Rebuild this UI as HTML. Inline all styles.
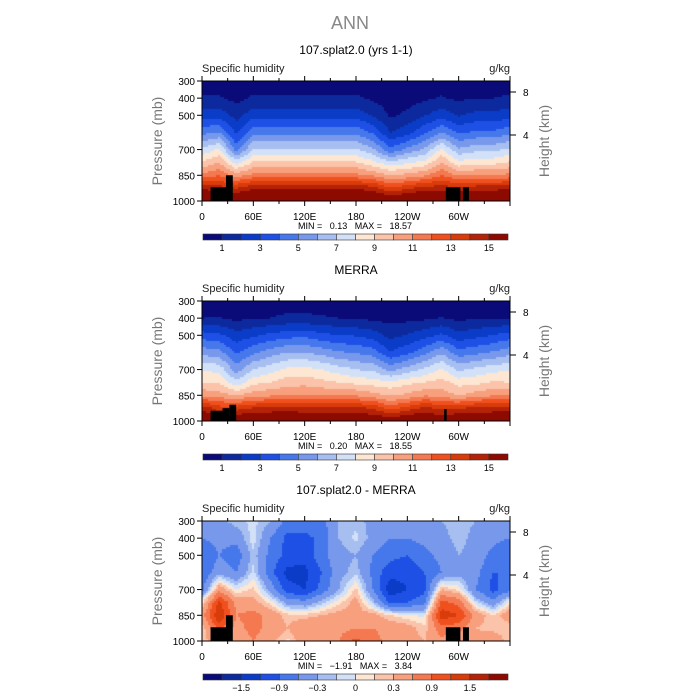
<!DOCTYPE html>
<html><head><meta charset="utf-8">
<style>
body{margin:0;background:#fff;width:700px;height:700px;overflow:hidden;font-family:"Liberation Sans",sans-serif;}
#wrap{position:relative;width:700px;height:700px;}
canvas{position:absolute;left:0;top:0;}
svg{position:absolute;left:0;top:0;}
.pre{white-space:pre;}
</style></head>
<body>
<div id="wrap">
<canvas id="cv" width="700" height="700"></canvas>
<svg id="sv" width="700" height="700" xmlns="http://www.w3.org/2000/svg">
<text x="350" y="29" text-anchor="middle" font-size="18" fill="#888">ANN</text>
</svg>
</div>
<script>
// ---- data ----
const lons = [0,20,40,60,80,100,120,140,160,180,200,220,240,260,280,300,320,340,360];
const levels = [1000,925,850,775,700,600,500,400,300];
const modelQ = [
 [17,16.5,17,17,17,17,17,17,17,17,17,16.5,16.8,17,16.5,17,17,17,17],
 [14.8,14.5,14,14.8,14.8,14.8,14.8,14.8,14.8,14.8,14.5,13,13.8,14.5,14.5,14.5,14.6,14.6,14.8],
 [11.3,12,10.5,11.3,11.3,11.3,11.3,11.3,11.3,11.3,10.8,10,10.3,10.8,12,10.8,11,11,11.3],
 [9.1,10,7.5,9.1,9.1,9.1,9.1,9.1,9.1,9.1,8.3,7.3,7.8,8.3,10,8.3,8.6,8.6,9.1],
 [7.2,8.2,4.5,7.2,7.2,7.2,7.2,7.2,7.2,7.2,6.2,4.2,5.3,6.2,8.2,6.2,6.7,6.7,7.2],
 [4.7,5,2.8,4.7,4.7,4.7,4.7,4.7,4.7,4.7,3.8,2.0,2.6,3.8,5,3.8,4.2,4.2,4.7],
 [2.6,2.6,1.6,2.6,2.6,2.6,2.6,2.6,2.6,2.6,1.9,0.85,1.2,1.9,2.6,1.9,2.3,2.3,2.6],
 [1.15,1.1,0.7,1.15,1.15,1.15,1.15,1.15,1.15,1.15,0.8,0.5,0.6,0.8,1.1,0.8,1.0,1.0,1.15],
 [0.5,0.45,0.35,0.5,0.5,0.5,0.5,0.5,0.5,0.5,0.35,0.3,0.3,0.35,0.45,0.35,0.4,0.4,0.5]
];
const merraQ = [
 [16.85,15.9,16.6,16.4,16.6,16.9,16.5,16.5,16.4,16,16.3,16,16.4,16.7,16,16.6,16.6,16.4,16.85],
 [14.65,13.5,13.5,14.1,14.3,14.5,14.2,14.2,14.3,14.2,13.9,12.5,13.4,14.3,13.7,13.8,14.3,14.4,14.65],
 [10.8,10.5,9.9,10.6,10.8,11.1,11.1,11,10.9,10.9,10.4,9.85,10.25,10.85,10.6,9.9,10.5,10.85,10.8],
 [9.0,8.9,7.3,8.7,9.0,9.5,9.6,9.3,9.0,8.7,8.5,8.3,8.7,9.0,9.4,8.6,8.7,9.1,9.0],
 [7.9,7.7,5.5,7.0,7.6,8.3,8.4,8.0,7.5,7.0,6.8,5.6,6.5,7.2,8.2,6.8,7.3,7.7,7.9],
 [5.6,5.4,3.8,4.8,5.5,6.0,6.0,5.6,5.1,4.9,4.5,3.1,3.7,4.7,5.8,4.4,4.7,5.1,5.6],
 [3.5,3.2,2.4,2.8,3.3,3.6,3.7,3.3,3.0,2.9,2.5,1.65,2.1,2.6,3.2,2.3,2.7,3.0,3.5],
 [1.0,1.05,0.75,0.95,1.0,1.2,1.2,1.1,1.0,0.9,0.75,0.65,0.7,0.8,1.05,0.75,0.9,0.9,1.0],
 [0.45,0.45,0.35,0.45,0.45,0.5,0.5,0.5,0.45,0.45,0.35,0.35,0.35,0.35,0.45,0.35,0.4,0.4,0.45]
];
const diffQ = [
 [0.15,0.6,0.4,0.6,0.4,0.1,0.5,0.5,0.6,1.0,0.7,0.5,0.4,0.3,0.5,0.4,0.4,0.6,0.15],
 [0.15,1.0,0.5,0.7,0.5,0.3,0.6,0.6,0.5,0.6,0.6,0.5,0.4,0.2,0.8,0.7,0.3,0.2,0.15],
 [0.5,1.5,0.6,0.7,0.5,0.2,0.2,0.3,0.4,0.4,0.4,0.15,0.05,-0.05,1.4,1.2,0.5,0.15,0.5],
 [0.1,1.3,0.5,0.4,0.1,-0.4,-0.5,-0.2,0.1,0.4,-0.2,-1.0,-0.9,-0.7,1.0,0.8,-0.1,-0.5,0.1],
 [-0.7,0.5,0.0,0.2,-0.4,-1.1,-1.2,-0.8,-0.3,0.2,-0.6,-1.4,-1.2,-1.0,0.3,0.1,-0.6,-1.0,-0.7],
 [-0.9,-0.4,-0.6,-0.1,-0.8,-1.3,-1.3,-0.9,-0.4,-0.2,-0.7,-1.1,-1.1,-0.9,-0.6,-0.4,-0.5,-0.9,-0.9],
 [-0.9,-0.6,-0.8,-0.2,-0.7,-1.0,-1.1,-0.7,-0.4,-0.3,-0.6,-0.8,-0.9,-0.7,-0.5,-0.3,-0.4,-0.7,-0.9],
 [-0.6,-0.5,-0.5,-0.05,-0.6,-1.0,-1.0,-0.8,-0.3,-0.1,-0.4,-0.6,-0.6,-0.5,-0.4,-0.2,-0.4,-0.5,-0.6],
 [-0.3,-0.4,-0.2,-0.1,-0.3,-0.7,-0.7,-0.7,-0.3,-0.2,-0.4,-0.5,-0.4,-0.3,-0.3,-0.2,-0.3,-0.4,-0.3]
];
const absBounds = [1,2,3,4,5,6,7,8,9,10,11,12,13,14,15];
const absLabels = ["1","3","5","7","9","11","13","15"];
const diffBounds = [-1.8,-1.5,-1.2,-0.9,-0.6,-0.3,-0.15,0,0.15,0.3,0.6,0.9,1.2,1.5,1.8];
const diffLabels = ["\u22121.5","\u22120.9","\u22120.3","0","0.3","0.9","1.5"];
const palette = ["#0a0a78","#0c2a9e","#0a3cc8","#1e50e6","#4678eb","#7898ec","#a6bff0","#d2e1f8","#fde6d2","#fbc3aa","#f8a07d","#f47850","#f0501e","#d83c0a","#b42308","#8c0a00"];
const pTicks = [300,400,500,700,850,1000];
const xTickLons = [0,60,120,180,240,300];
const xTickLabels = ["0","60E","120E","180","120W","60W"];
const hTicks = [8,4];
const minMax = [["0.13","18.57"],["0.20","18.55"],["\u22121.91","3.84"]];
const titles = ["107.splat2.0 (yrs 1-1)","MERRA","107.splat2.0 - MERRA"];
const topoModel = [[10,30,1000,920],[28,36,1000,850],[285,302,1000,920],[305,312,1000,920]];
const topoMerra = [[10,24,1000,940],[24,32,1000,925],[32,40,1000,905],[283,286,1000,930]];

// ---- geometry ----
const X0=202,X1=510,PT=81,PB=201;
const xs = lon => X0 + (lon/360)*(X1-X0);
const ys = (p,off) => off + PT + (p-300)/700*(PB-PT);
const hy = (km,off) => off + 92 + (8-km)/4*43;

const cv=document.getElementById('cv'),ctx=cv.getContext('2d');
const sv=document.getElementById('sv');
const NS='http://www.w3.org/2000/svg';
function mk(tag,attrs,txt){const e=document.createElementNS(NS,tag);for(const k in attrs)e.setAttribute(k,attrs[k]);if(txt!==undefined)e.textContent=txt;sv.appendChild(e);return e;}

function sample(field,lon,p){
  let i=0;while(i<lons.length-2&&lon>lons[i+1])i++;
  const tx=(lon-lons[i])/(lons[i+1]-lons[i]);
  let j=0;while(j<levels.length-2&&p<levels[j+1])j++;
  const ty=(levels[j]-p)/(levels[j]-levels[j+1]);
  const a=field[j][i],b=field[j][i+1],c=field[j+1][i],d=field[j+1][i+1];
  return (a*(1-tx)+b*tx)*(1-ty)+(c*(1-tx)+d*tx)*ty;
}
function colorIdx(v,bounds){let k=0;while(k<bounds.length&&v>=bounds[k])k++;return k;}

function panel(n,field,bounds,labels,topo){
  const off=n*220;
  for(let px=X0;px<X1;px+=2){
    for(let py=PT;py<PB;py+=2){
      const lon=(px+1-X0)/(X1-X0)*360;
      const p=300+(py+1-PT)/(PB-PT)*700;
      ctx.fillStyle=palette[colorIdx(sample(field,lon,p),bounds)];
      ctx.fillRect(px,py+off,2,2);
    }
  }
  topo.forEach(t=>{
    const r=mk('rect',{x:xs(t[0]),y:ys(t[3],off),width:xs(t[1])-xs(t[0]),height:ys(t[2],off)-ys(t[3],off),fill:'#000'});
    
    
  });
  const fr=mk('rect',{x:X0,y:off+PT,width:X1-X0,height:PB-PT,fill:'none',stroke:'#000','stroke-width':1});
  
  
  const t=mk('text',{x:356,y:off+54,'text-anchor':'middle','font-size':12,fill:'#000'},titles[n]);
  
  
  const l=mk('text',{x:202,y:off+72,'font-size':11,fill:'#222'},'Specific humidity');
  
  
  const u=mk('text',{x:510,y:off+72,'text-anchor':'end','font-size':11,fill:'#222'},'g/kg');
  
  
  pTicks.forEach(p=>{
    const y=ys(p,off);
    mk('line',{x1:X0-5,x2:X0,y1:y,y2:y,stroke:'#000'});
    const e=mk('text',{x:X0-7,y:y+4,'text-anchor':'end','font-size':10,fill:'#000'},String(p));
    
    
  });
  const ya=mk('text',{x:0,y:0,'font-size':14,fill:'#777','text-anchor':'middle',transform:`translate(162,${off+141}) rotate(-90)`},'Pressure (mb)');
  
  
  hTicks.forEach(h=>{
    const y=hy(h,off);
    mk('line',{x1:X1,x2:X1+6,y1:y,y2:y,stroke:'#000'});
    const e=mk('text',{x:X1+13,y:y+4,'font-size':10,fill:'#000'},String(h));
    
    
  });
  const ha=mk('text',{x:0,y:0,'font-size':14,fill:'#777','text-anchor':'middle',transform:`translate(549,${off+141}) rotate(-90)`},'Height (km)');
  
  
  for(let lon=0;lon<=360;lon+=30){
    const x=xs(lon),major=lon%60===0;
    mk('line',{x1:x,x2:x,y1:off+PB,y2:off+PB+(major?5:3),stroke:'#000'});
    mk('line',{x1:x,x2:x,y1:off+PT,y2:off+PT-(major?5:3),stroke:'#000'});
  }
  xTickLons.forEach((lon,i)=>{
    const e=mk('text',{x:xs(lon),y:off+220,'text-anchor':'middle','font-size':10,fill:'#000'},xTickLabels[i]);
    
    
  });
  const mm=mk('text',{x:355,y:off+229,'text-anchor':'middle','font-size':9,fill:'#000','class':'pre'},`MIN =   ${minMax[n][0]}   MAX =   ${minMax[n][1]}`);
  
  
  const cw=(508-203)/16;
  palette.forEach((c,i)=>{
    const r=mk('rect',{x:203+i*cw,y:off+234,width:cw,height:6,fill:c,stroke:'#333','stroke-width':0.6});
    
    
  });
  labels.forEach((lb,i)=>{
    const e=mk('text',{x:203+(2*i+2)*cw-(n===2?0:cw),y:off+251,'text-anchor':'middle','font-size':9,fill:'#000'},lb);
    
    
  });
}
panel(0,modelQ,absBounds,absLabels,topoModel);
panel(1,merraQ,absBounds,absLabels,topoMerra);
panel(2,diffQ,diffBounds,diffLabels,topoModel);
</script>
</body></html>
